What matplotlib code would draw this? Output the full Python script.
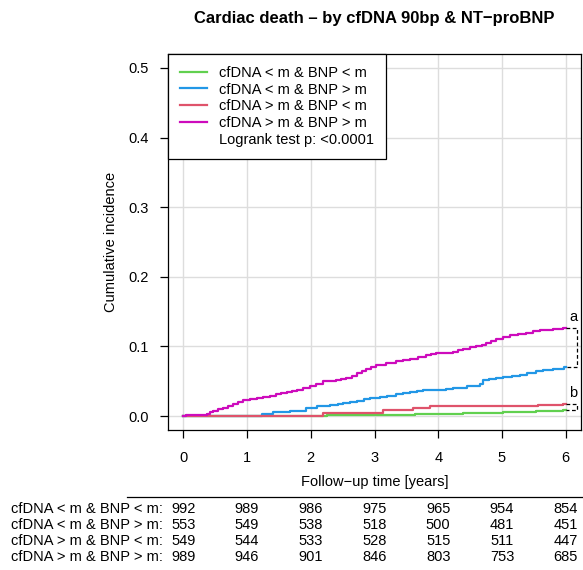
import matplotlib.pyplot as plt
from matplotlib.lines import Line2D
import matplotlib.transforms as mtransforms

plt.rcParams['font.family'] = ['Liberation Sans', 'DejaVu Sans']

# groups and colours (R default palette)
groups = ["cfDNA < m & BNP < m", "cfDNA < m & BNP > m",
          "cfDNA > m & BNP < m", "cfDNA > m & BNP > m"]
colors = ["#61D04F", "#2297E6", "#DF536B", "#CD0BBC"]

# cumulative incidence step data (time in years, value after the step)
t_ll = [0, 2.25, 3.63, 4.39, 5.02, 5.54, 5.96, 6.0]
ci_ll = [0, 0.0014, 0.0029, 0.0043, 0.0053, 0.0077, 0.0091, 0.0091]

t_lh = [0, 1.23, 1.41, 1.67, 1.93, 2.09, 2.20, 2.30, 2.42, 2.51, 2.62, 2.72, 2.83,
        2.93, 3.08, 3.20, 3.34, 3.45, 3.55, 3.66, 3.76, 4.02, 4.12, 4.23, 4.45,
        4.65, 4.70, 4.80, 4.91, 5.02, 5.15, 5.28, 5.40, 5.54, 5.65, 5.80, 5.98, 6.0]
ci_lh = [0, 0.003, 0.0057, 0.0067, 0.012, 0.014, 0.0145, 0.0153, 0.017, 0.0187,
         0.020, 0.0216, 0.024, 0.026, 0.028, 0.029, 0.031, 0.0325, 0.034, 0.0355,
         0.037, 0.038, 0.0395, 0.041, 0.0425, 0.0455, 0.052, 0.053, 0.0546, 0.056,
         0.0575, 0.059, 0.062, 0.0647, 0.066, 0.068, 0.0704, 0.0704]

t_hl = [0, 2.19, 3.13, 3.60, 3.87, 5.56, 5.96, 6.0]
ci_hl = [0, 0.0048, 0.0091, 0.0115, 0.0139, 0.0163, 0.0177, 0.0177]

t_hh = [0, 0.05, 0.30, 0.37, 0.42, 0.47, 0.55, 0.63, 0.70, 0.78, 0.86, 0.94, 1.04,
        1.15, 1.25, 1.36, 1.46, 1.54, 1.62, 1.70, 1.78, 1.88, 1.99, 2.08, 2.19,
        2.30, 2.40, 2.48, 2.56, 2.64, 2.72, 2.80, 2.87, 2.95, 3.03, 3.18, 3.34,
        3.45, 3.55, 3.68, 3.81, 3.89, 3.97, 4.10, 4.23, 4.31, 4.39, 4.50, 4.60,
        4.68, 4.75, 4.83, 4.91, 5.02, 5.12, 5.25, 5.38, 5.48, 5.59, 5.70, 5.80,
        5.96, 6.0]
ci_hh = [0, 0.001, 0.002, 0.0034, 0.006, 0.008, 0.010, 0.012, 0.0145, 0.0168,
         0.020, 0.0225, 0.025, 0.0265, 0.028, 0.0295, 0.031, 0.0325, 0.034, 0.036,
         0.038, 0.040, 0.0426, 0.046, 0.050, 0.051, 0.052, 0.0535, 0.055, 0.058,
         0.062, 0.065, 0.068, 0.071, 0.074, 0.076, 0.0785, 0.080, 0.082, 0.0845,
         0.087, 0.089, 0.0905, 0.091, 0.092, 0.0945, 0.097, 0.0985, 0.100, 0.1025,
         0.105, 0.1075, 0.110, 0.113, 0.116, 0.118, 0.120, 0.1215, 0.123, 0.124,
         0.1255, 0.127, 0.127]

times = [t_ll, t_lh, t_hl, t_hh]
cis = [ci_ll, ci_lh, ci_hl, ci_hh]

# numbers at risk
risk_times = [0, 1, 2, 3, 4, 5, 6]
risk_ll = [992, 989, 986, 975, 965, 954, 854]
risk_lh = [553, 549, 538, 518, 500, 481, 451]
risk_hl = [549, 544, 533, 528, 515, 511, 447]
risk_hh = [989, 946, 901, 846, 803, 753, 685]
risks = [risk_ll, risk_lh, risk_hl, risk_hh]

W, H = 583, 570
fs = 10.5
fig = plt.figure(figsize=(W / 100, H / 100), dpi=100)
ax = fig.add_axes([168 / W, 1 - 430 / H, 413 / W, 376 / H])

ax.set_xlim(-0.24, 6.24)
ax.set_ylim(-0.02, 0.52)
ax.set_xticks(risk_times)
ax.set_yticks([0, 0.1, 0.2, 0.3, 0.4, 0.5])
ax.set_yticklabels(["0.0", "0.1", "0.2", "0.3", "0.4", "0.5"])
ax.tick_params(labelsize=fs, length=6, width=0.9, pad=9)
ax.tick_params(axis='y', pad=8)
ax.grid(True, color="#dddddd", linewidth=1)
ax.set_axisbelow(True)
for s in ax.spines.values():
    s.set_linewidth(0.9)

for t, c, col, g in zip(times, cis, colors, groups):
    ax.step(t, c, where='post', color=col, linewidth=1.6, label=g)

# brackets comparing end points
xe, xb = 6.0, 6.17
for top, bot, lab in [(ci_hh[-1], ci_lh[-1], "a"), (ci_hl[-1], ci_ll[-1], "b")]:
    ax.plot([xe, xb, xb, xe], [top, top, bot, bot], color="black",
            linestyle=(0, (3, 2)), linewidth=0.9, clip_on=False)
    ax.text(6.12, top + 0.005, lab, fontsize=fs, ha='center', va='bottom')

ax.plot([], [], color='none', label="Logrank test p: <0.0001")
leg = ax.legend(loc='upper left', bbox_to_anchor=(0, 1), borderaxespad=0,
                fontsize=fs, frameon=True, fancybox=False, edgecolor='black',
                handlelength=1.9, handletextpad=0.8, labelspacing=0.2,
                borderpad=0.8, framealpha=1)
leg.get_frame().set_linewidth(0.9)

ax.set_xlabel("Follow\u2212up time [years]", fontsize=fs, labelpad=7)
ax.set_ylabel("Cumulative incidence", fontsize=fs, labelpad=7)
fig.text(374.5 / W, 1 - 19 / H, "Cardiac death \u2013 by cfDNA 90bp & NT\u2212proBNP",
         fontsize=12, fontweight='bold', ha='center', va='center')

# risk table
trans = mtransforms.blended_transform_factory(ax.transData, fig.transFigure)
row_y = [509, 525, 541, 557]
for g, r, y in zip(groups, risks, row_y):
    fig.text(163 / W, 1 - y / H, g + ":", fontsize=fs, ha='right', va='center')
    for tt, n in zip(risk_times, r):
        ax.text(tt, 1 - y / H, str(n), transform=trans, fontsize=fs,
                ha='center', va='center', clip_on=False)
fig.add_artist(Line2D([127 / W, 1.0], [1 - 497 / H, 1 - 497 / H],
                      color='black', linewidth=0.9))

fig.savefig("out.png", dpi=100)
